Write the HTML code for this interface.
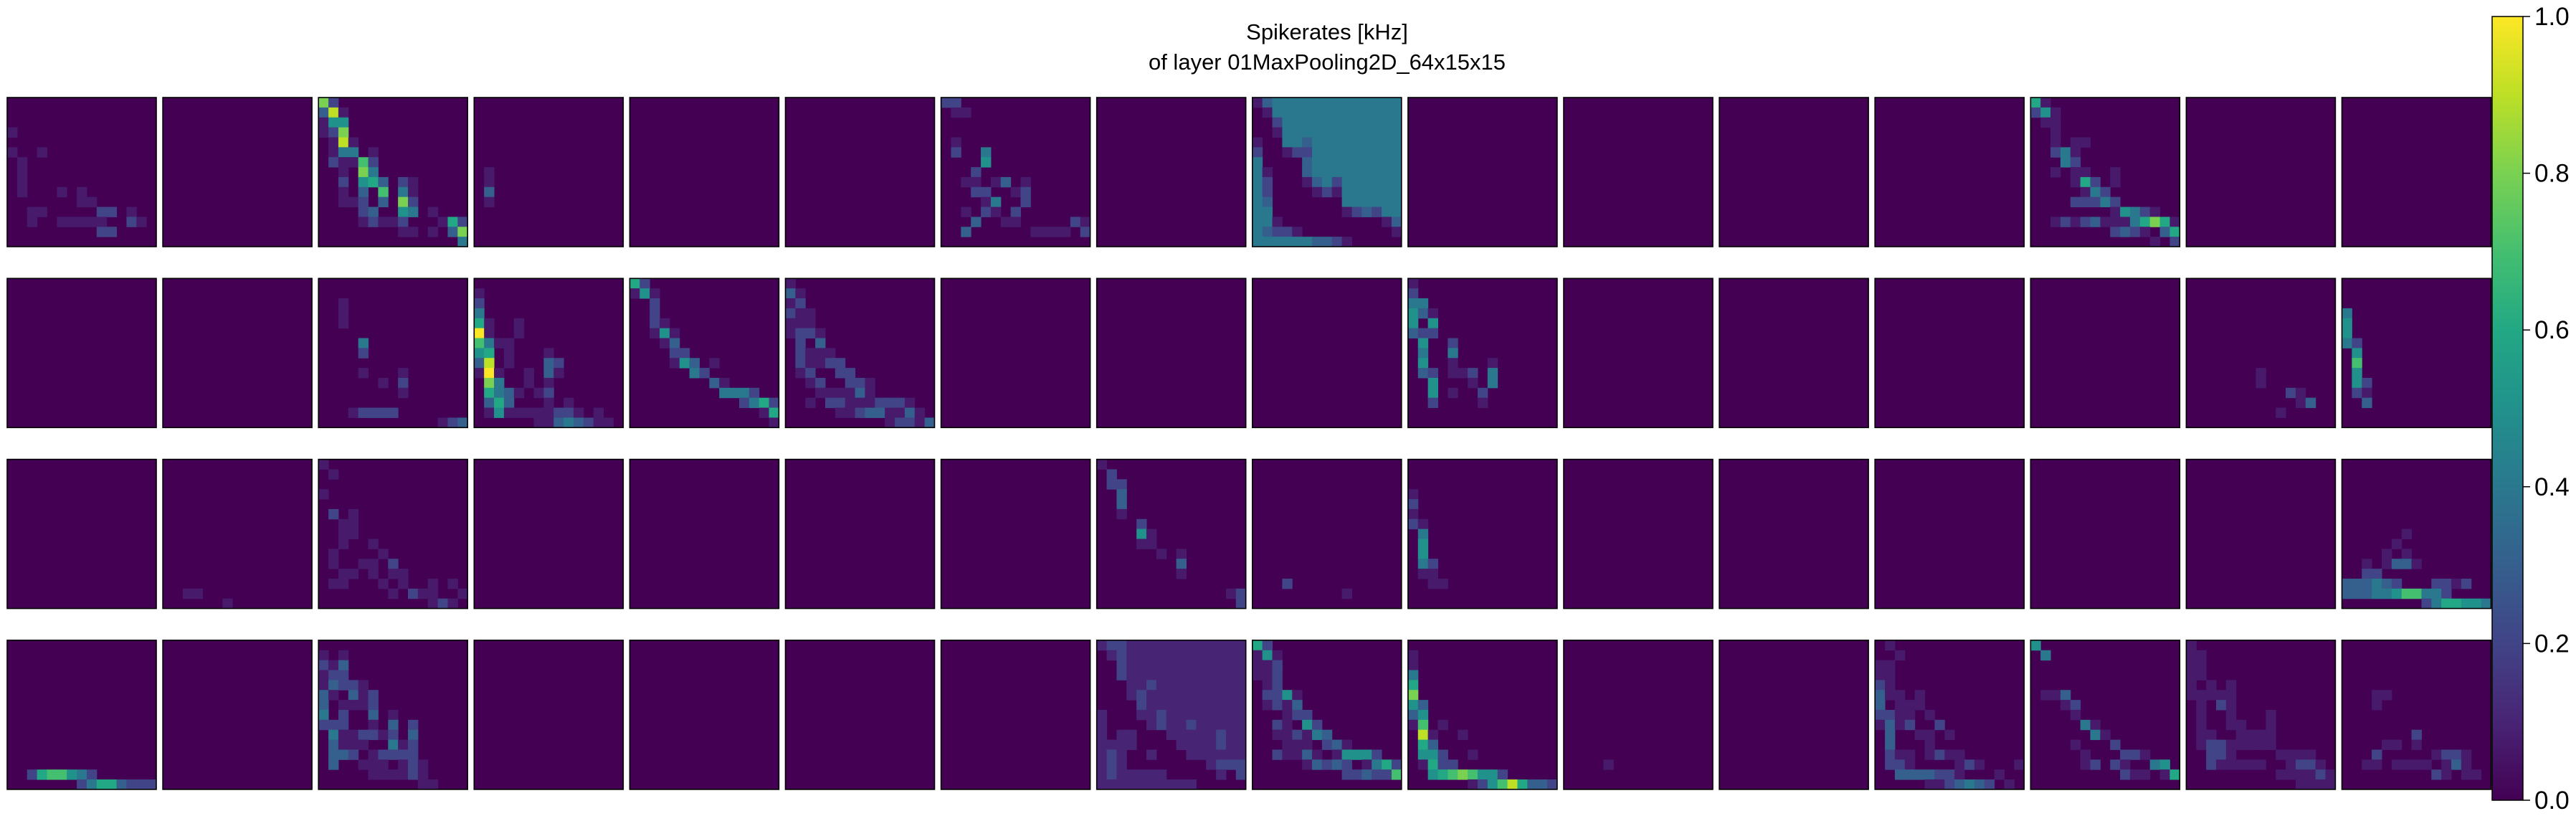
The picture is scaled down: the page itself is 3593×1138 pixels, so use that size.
<!DOCTYPE html>
<html><head><meta charset="utf-8">
<style>
html,body{margin:0;padding:0;background:#fff;}
svg{display:block;}
text{font-family:"Liberation Sans",sans-serif;fill:#000;}
</style></head>
<body>
<svg id="fig" width="3593" height="1138" viewBox="0 0 3593 1138" xmlns="http://www.w3.org/2000/svg">
  <text x="1851" y="55" font-size="31" text-anchor="middle">Spikerates [kHz]</text>
  <text x="1851" y="97" font-size="31" text-anchor="middle">of layer 01MaxPooling2D_64x15x15</text>
  <g id="panels"></g>
  <defs>
    <linearGradient id="vir" x1="0" y1="1" x2="0" y2="0">
      <stop offset="0" stop-color="#440154"/><stop offset="0.1" stop-color="#482475"/>
      <stop offset="0.2" stop-color="#414487"/><stop offset="0.3" stop-color="#355f8d"/>
      <stop offset="0.4" stop-color="#2a788e"/><stop offset="0.5" stop-color="#21918c"/>
      <stop offset="0.6" stop-color="#22a884"/><stop offset="0.7" stop-color="#44bf70"/>
      <stop offset="0.8" stop-color="#7ad151"/><stop offset="0.9" stop-color="#bddf26"/>
      <stop offset="1" stop-color="#fde725"/>
    </linearGradient>
  </defs>
  <g id="cbar">
    <rect x="3476" y="23" width="43" height="1093" fill="url(#vir)" stroke="#000" stroke-width="1.5"/>
  </g>
</svg>
<script>
// ---- data ----
const gridPanelIds = [0, 2, 6, 8, 13, 18, 19, 20, 21, 25, 47, 55];
const gridPanelRows = [
["...............","...............","...............","1..............","...............","1..1...........",".1.............",".1.............",".1.............",".1...1.1.......",".......11......","..11.....22.1..","..1..11111..21.",".........22....","..............."],
["82.............","391............","155............","128............",".191...........",".144.1.........",".21172.........","..1.84.........","..2.563.21.....","..1.3.7.41.....","..112.3.82.....","....23..54.1...","....12112...162","........11.1.38","..............4"],
["22.............",".11............","...............","...............",".1.............",".2..4..........","....5..........","...2...........","..11.13.1......","...22..12......","....14..2......","..1.21.2.......","...3..11.....21","..3......1111.2","..............."],
["134444444444444",".14444444444444","..2444444444444","..1444444444444","1..443444444444","2..122444444444","4....3444444444","41...3444444444","42...1342444444","42....121444444","43.......444444","44.......123244","441..........13","43221.........1","4444443321....."],
["61.............","251............",".11............","..1............","..1.11.........","..241..........","...42..........","..1.11..1......","....162.1......",".....142.......","....22242......","........15421..","..1212311146861","........2321.36","............1.2"],
["...............","...............","..1............","..1............","..1............","...............","....4..........","....2..........","...............","....1...1......","......1.2......","........1......","...............","...12222.......","............123"],
["...............","1..............","2..............","4..............","61..1..........","a1..1..........","7411...........","56.1...1.......","39.1...32......","1a1..1.31......",".84..1.1.......",".6431.12.......",".363...1.1.....",".1511111221.1..","......11343211."],
["62.............","151............","..2............","..2............","..21...........","..151..........","...13..........","....22.........","....153.1......","......42.......","........31.....",".........4442..","...........2462",".............16","..............1"],
["1..............","31.............","12.............","211............","111............","1221...........",".2.3...........",".2111..........",".21122.........",".12..22........","..12..221......","...111131......","..1.221112221..",".....112331131.","..........12213"],
["1..............","2..............","44.............","531............","5.5............","322............",".5..2..........",".4..4..........",".5..1...1......",".32.112.4......","..5...1.4......","..5.1..2.......","..2....1.......","...............","..............."],
["...............","...............","...............","...............","...............","...............","...............","......1........",".....1.........","....1.1........","..1.1331.......","..22...........","333432...2212..","33344577442....","........2466554"],
["122111111111111","012111111111111","002111111111111","002111111111111","000112111111111","000121111111111","000021111111111","100011211111111","100001211211111","101100011111211","111100001111211","121001000111111","121000000001222","121111100000102","111111111100000"]
];
const sparsePanelIds = [3, 30, 31, 33, 34, 39, 40, 41, 48, 50, 56, 57, 58, 60, 61, 62, 63];
const sparsePanelCells = [
"7,1,1;8,1,1;9,1,3;10,1,1",
"9,7,1;10,7,1;11,10,2;11,11,1;12,11,1;12,12,3;13,9,1",
"3,0,4;4,0,5;5,0,5;6,0,4;6,1,2;7,1,5;8,1,7;9,1,5;10,1,5;10,2,2;11,1,2;11,2,1;12,2,3",
"13,2,1;13,3,1;14,6,1",
"0,0,1;1,1,1;3,0,1;5,1,2;5,3,1;6,2,1;6,3,1;7,2,1;7,3,1;8,2,1;8,5,1;9,1,1;9,6,1;10,1,1;10,4,1;10,5,1;10,7,2;11,2,1;11,3,1;11,5,1;11,7,1;11,8,1;12,1,1;12,2,1;12,6,1;12,8,1;12,11,1;12,13,1;13,7,1;13,9,2;13,10,1;13,11,1;13,14,1;14,11,1;14,12,2;14,13,1",
"0,0,1;1,1,2;2,1,2;2,2,2;3,2,3;4,2,3;5,2,1;6,4,2;7,4,5;7,5,1;8,4,1;8,5,1;9,6,1;9,8,1;10,8,3;11,8,1;13,13,1;13,14,2;14,14,2",
"12,3,2;13,9,1",
"3,0,1;4,0,2;5,0,1;6,0,2;6,1,1;7,1,4;8,1,5;9,1,5;10,1,4;10,2,2;11,1,1;11,2,1;12,2,1;12,3,1",
"13,2,2;13,3,6;13,4,7;13,5,7;13,6,5;13,7,4;13,8,2;14,7,2;14,8,4;14,9,6;14,10,6;14,11,3;14,12,2;14,13,2;14,14,2",
"1,0,1;1,2,1;2,0,2;2,1,1;2,2,3;3,0,1;3,1,2;3,2,2;4,0,1;4,1,3;4,2,2;4,3,2;4,4,1;5,0,3;5,1,1;5,3,3;5,4,1;5,5,2;6,0,3;6,2,1;6,3,1;6,4,1;6,5,2;7,0,4;7,2,2;7,5,3;7,7,1;8,0,2;8,1,2;8,2,2;8,5,1;8,7,3;8,9,2;9,1,4;9,2,1;9,3,1;9,4,2;9,5,2;9,6,1;9,7,2;9,9,3;10,1,3;10,2,1;10,3,1;10,4,1;10,7,4;10,8,1;10,9,2;11,1,3;11,2,3;11,3,2;11,5,1;11,6,2;11,7,2;11,8,2;11,9,2;12,1,3;12,4,1;12,5,1;12,6,1;12,8,1;12,9,2;12,10,1;13,5,1;13,6,1;13,7,1;13,8,1;13,9,2;13,10,1;14,10,1;14,11,1",
"0,0,6;0,1,2;1,0,1;1,1,5;1,2,1;2,0,1;2,1,1;2,2,2;3,0,1;3,1,1;3,2,2;4,1,1;4,2,2;5,1,2;5,2,2;5,3,5;5,4,1;6,1,1;6,2,2;6,3,1;6,4,3;7,3,1;7,4,2;7,5,2;8,2,2;8,3,1;8,5,5;8,6,2;9,2,1;9,3,1;9,4,2;9,5,1;9,6,4;9,7,3;10,3,1;10,4,1;10,5,1;10,7,2;10,8,3;10,9,1;11,2,2;11,3,1;11,4,1;11,5,3;11,6,1;11,8,1;11,9,5;11,10,5;11,11,5;11,12,2;12,5,1;12,6,3;12,7,2;12,8,3;12,9,2;12,11,1;12,12,4;12,13,6;12,14,2;13,9,2;13,10,2;13,11,3;13,12,2;13,13,2;13,14,7",
"1,0,1;2,0,1;3,0,4;4,0,6;5,0,8;6,0,5;6,1,3;7,0,3;7,1,5;8,0,1;8,1,7;8,3,1;9,1,9;9,2,1;9,5,1;10,1,6;10,2,3;11,1,5;11,2,5;11,3,2;11,6,1;12,1,1;12,2,6;12,3,2;12,4,2;13,2,5;13,3,6;13,4,7;13,5,8;13,6,7;13,7,5;13,8,5;13,9,2;14,6,1;14,7,2;14,8,5;14,9,7;14,10,9;14,11,6;14,12,3;14,13,3;14,14,2",
"12,4,1",
"0,1,1;1,2,1;2,0,1;2,1,1;3,0,1;3,1,1;4,0,2;4,1,1;5,0,3;5,1,1;5,2,1;5,4,1;6,0,3;6,2,1;6,3,1;6,4,1;7,0,2;7,1,2;7,2,1;7,3,1;7,5,1;8,0,1;8,1,3;8,2,1;8,3,2;8,6,2;9,1,3;9,4,1;9,5,1;9,7,1;10,1,3;10,5,1;11,1,2;11,2,1;11,3,1;11,5,1;11,6,2;11,7,1;11,8,1;12,1,2;12,2,2;12,3,1;12,8,1;12,9,2;12,10,1;12,14,1;13,2,3;13,3,3;13,4,3;13,5,3;13,6,2;13,7,2;13,8,1;13,12,1;14,5,1;14,6,1;14,7,2;14,8,3;14,9,4;14,10,3;14,11,2;14,13,1",
"0,0,5;1,1,4;5,1,1;5,2,1;5,3,3;6,3,1;6,4,2;7,4,1;8,5,4;8,6,1;9,6,4;9,7,1;10,4,1;10,8,2;11,5,1;11,9,2;11,10,2;11,11,1;12,5,1;12,6,2;12,8,2;12,9,1;12,12,4;12,13,5;13,9,2;13,10,1;13,11,1;13,13,1;13,14,6",
"0,0,1;1,0,1;1,1,1;2,0,1;2,1,1;3,0,1;3,1,1;4,0,1;4,2,1;4,4,1;5,0,1;5,1,1;5,2,1;5,3,1;5,4,1;6,1,1;6,3,2;6,4,1;7,1,1;7,4,1;7,8,1;8,1,1;8,4,1;8,5,1;8,8,1;9,1,1;9,2,1;9,5,1;9,6,1;9,7,1;9,8,1;10,1,1;10,2,2;10,3,2;10,4,1;10,5,1;10,6,1;10,7,1;10,8,1;11,2,2;11,3,2;11,4,1;11,9,1;11,10,1;11,11,1;11,12,1;12,2,2;12,3,1;12,4,1;12,5,1;12,6,1;12,7,1;12,10,1;12,11,2;12,12,2;12,13,1;13,9,1;13,10,1;13,11,1;13,12,1;13,13,2;13,14,1;14,11,1;14,12,1;14,13,1;14,14,1",
"5,3,1;5,4,1;6,3,1;9,7,2;10,4,1;10,5,1;10,7,1;11,3,2;11,9,1;11,10,2;11,11,2;11,12,1;12,2,1;12,3,1;12,5,1;12,6,1;12,7,1;12,8,1;12,10,1;12,11,3;12,12,1;13,9,2;13,10,1;13,12,1;13,13,1"
];
const fullLevelPanels = [55];
const cbarTicks = [0, 0.2, 0.4, 0.6, 0.8, 1.0];
const cbarTickLabels = ["0.0", "0.2", "0.4", "0.6", "0.8", "1.0"];

// ---- layout ----
const NS = "http://www.w3.org/2000/svg";
const N = 15, COLS = 16, ROWS = 4;
const X0 = 10, PX = 217.1, Y0 = 136, PY = 252.3, SZ = 208;
const CB_Y0 = 1116, CB_Y1 = 23, CB_X = 3519;
const vir = ["#440154","#482475","#414487","#355f8d","#2a788e","#21918c","#22a884","#44bf70","#7ad151","#bddf26","#fde725"];
function hex(h){return [parseInt(h.substr(1,2),16),parseInt(h.substr(3,2),16),parseInt(h.substr(5,2),16)];}
function color(v){
  v=Math.max(0,Math.min(1,v)); const f=v*10, i=Math.min(9,Math.floor(f)), t=f-i;
  const a=hex(vir[i]), b=hex(vir[i+1]);
  return "rgb("+a.map((x,k)=>Math.round(x+(b[k]-x)*t)).join(",")+")";
}
function level(d, id){ if(d===1 && fullLevelPanels.indexOf(id)<0) return 0.07; return d/10; }
function chVal(ch, id){ if(ch==="."||ch==="0")return 0; if(ch==="a")return 1; return level(parseInt(ch,10), id); }
function yScale(v){ return CB_Y0 + (CB_Y1-CB_Y0)*v; }

const grids = [];
for(let p=0;p<ROWS*COLS;p++){ const g=[]; for(let r=0;r<N;r++){g.push(new Array(N).fill(0));} grids.push(g); }
gridPanelIds.forEach((id,k)=>{ gridPanelRows[k].forEach((row,r)=>{ for(let c=0;c<N;c++){ grids[id][r][c]=chVal(row[c]||".", id); } }); });
sparsePanelIds.forEach((id,k)=>{ sparsePanelCells[k].split(";").forEach(s=>{ const q=s.split(",").map(Number); grids[id][q[0]][q[1]]=level(q[2], id); }); });

const root=document.getElementById("panels");
const cs = SZ/N;
for(let p=0;p<ROWS*COLS;p++){
  const row=Math.floor(p/COLS), col=p%COLS;
  const px=X0+col*PX, py=Y0+row*PY;
  const g=document.createElementNS(NS,"g");
  
  
  const bg=document.createElementNS(NS,"rect");
  bg.setAttribute("x",px);bg.setAttribute("y",py);bg.setAttribute("width",SZ);bg.setAttribute("height",SZ);
  bg.setAttribute("fill",color(0));
  
  
  g.appendChild(bg);
  for(let r=0;r<N;r++)for(let c=0;c<N;c++){
    const v=grids[p][r][c]; if(v<=0)continue;
    const rc=document.createElementNS(NS,"rect");
    rc.setAttribute("x",(px+c*cs).toFixed(2));rc.setAttribute("y",(py+r*cs).toFixed(2));
    rc.setAttribute("width",(cs+0.5).toFixed(2));rc.setAttribute("height",(cs+0.5).toFixed(2));
    rc.setAttribute("fill",color(v));
    
    
    g.appendChild(rc);
  }
  const bd=document.createElementNS(NS,"rect");
  bd.setAttribute("x",px);bd.setAttribute("y",py);bd.setAttribute("width",SZ);bd.setAttribute("height",SZ);
  bd.setAttribute("fill","none");bd.setAttribute("stroke","#000");bd.setAttribute("stroke-width","1.6");
  
  
  g.appendChild(bd);
  root.appendChild(g);
}

const cb=document.getElementById("cbar");
cbarTicks.forEach((t,i)=>{
  const y=yScale(t);
  const ln=document.createElementNS(NS,"line");
  ln.setAttribute("x1",CB_X);ln.setAttribute("x2",CB_X+10);ln.setAttribute("y1",y);ln.setAttribute("y2",y);
  ln.setAttribute("stroke","#000");ln.setAttribute("stroke-width","1.5");
  
  
  cb.appendChild(ln);
  const tx=document.createElementNS(NS,"text");
  tx.setAttribute("x",CB_X+16);tx.setAttribute("y",y+12);tx.setAttribute("font-size","35");
  tx.textContent=cbarTickLabels[i];
  
  
  cb.appendChild(tx);
});
</script>
</body></html>
